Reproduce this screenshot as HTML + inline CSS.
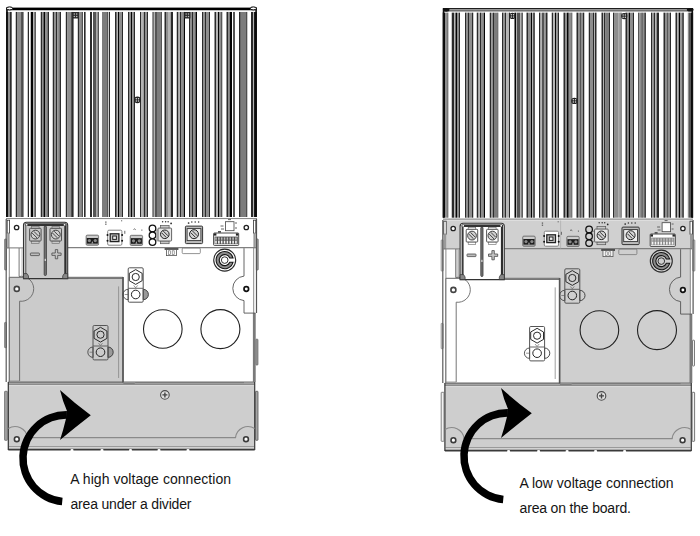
<!DOCTYPE html>
<html><head><meta charset="utf-8"><style>
html,body{margin:0;padding:0;background:#fff;}
body{width:700px;height:536px;overflow:hidden;position:relative;font-family:"Liberation Sans",sans-serif;}
svg{position:absolute;left:0;top:0;filter:blur(0.3px);}
.t{position:absolute;font-size:14px;color:#141414;white-space:nowrap;line-height:14px;}
</style></head><body>
<svg width="700" height="536" viewBox="0 0 700 536">
<rect x="6.1" y="11.8" width="1.8" height="205.2" fill="#050505"/>
<rect x="7.9" y="11.8" width="2.1" height="205.2" fill="#8e8e8e"/>
<rect x="10.0" y="11.8" width="1.7" height="205.2" fill="#2b2b2b"/>
<rect x="15.75" y="11.8" width="1.75" height="205.2" fill="#2b2b2b"/>
<rect x="17.5" y="11.8" width="3.5" height="205.2" fill="#8e8e8e"/>
<rect x="21.0" y="11.8" width="1.2" height="205.2" fill="#555"/>
<rect x="22.2" y="11.8" width="1.3" height="205.2" fill="#2b2b2b"/>
<rect x="27.75" y="11.8" width="1.25" height="205.2" fill="#2b2b2b"/>
<rect x="30.75" y="11.8" width="2.5" height="205.2" fill="#050505"/>
<rect x="33.25" y="11.8" width="1.25" height="205.2" fill="#b4b4b4"/>
<rect x="34.5" y="11.8" width="1.25" height="205.2" fill="#2b2b2b"/>
<rect x="40.75" y="11.8" width="1.75" height="205.2" fill="#2b2b2b"/>
<rect x="42.5" y="11.8" width="1.0" height="205.2" fill="#8e8e8e"/>
<rect x="43.5" y="11.8" width="1.5" height="205.2" fill="#050505"/>
<rect x="45.0" y="11.8" width="2.5" height="205.2" fill="#8e8e8e"/>
<rect x="47.5" y="11.8" width="1.5" height="205.2" fill="#2b2b2b"/>
<rect x="52.75" y="11.8" width="1.75" height="205.2" fill="#2b2b2b"/>
<rect x="54.5" y="11.8" width="1.5" height="205.2" fill="#8e8e8e"/>
<rect x="56.0" y="11.8" width="1.25" height="205.2" fill="#2b2b2b"/>
<rect x="57.25" y="11.8" width="2.25" height="205.2" fill="#8e8e8e"/>
<rect x="59.5" y="11.8" width="1.5" height="205.2" fill="#2b2b2b"/>
<rect x="65.8" y="11.8" width="1.3" height="205.2" fill="#2b2b2b"/>
<rect x="67.1" y="11.8" width="4.1" height="205.2" fill="#8e8e8e"/>
<rect x="71.2" y="11.8" width="2.4" height="205.2" fill="#2b2b2b"/>
<rect x="77.8" y="11.8" width="1.2" height="205.2" fill="#2b2b2b"/>
<rect x="79.0" y="11.8" width="2.6" height="205.2" fill="#8e8e8e"/>
<rect x="81.6" y="11.8" width="1.2" height="205.2" fill="#2b2b2b"/>
<rect x="84.0" y="11.8" width="1.6" height="205.2" fill="#2b2b2b"/>
<rect x="90.0" y="11.8" width="2.0" height="205.2" fill="#2b2b2b"/>
<rect x="93.0" y="11.8" width="3.5" height="205.2" fill="#555"/>
<rect x="97.5" y="11.8" width="1.3" height="205.2" fill="#2b2b2b"/>
<rect x="102.0" y="11.8" width="5.25" height="205.2" fill="#7c7c7c"/>
<rect x="107.25" y="11.8" width="1.0" height="205.2" fill="#2b2b2b"/>
<rect x="109.0" y="11.8" width="1.0" height="205.2" fill="#2b2b2b"/>
<rect x="115.0" y="11.8" width="1.75" height="205.2" fill="#2b2b2b"/>
<rect x="116.75" y="11.8" width="1.25" height="205.2" fill="#b4b4b4"/>
<rect x="118.0" y="11.8" width="1.0" height="205.2" fill="#050505"/>
<rect x="119.0" y="11.8" width="3.0" height="205.2" fill="#8e8e8e"/>
<rect x="122.0" y="11.8" width="1.0" height="205.2" fill="#2b2b2b"/>
<rect x="128.0" y="11.8" width="1.5" height="205.2" fill="#2b2b2b"/>
<rect x="129.5" y="11.8" width="1.5" height="205.2" fill="#8e8e8e"/>
<rect x="131.0" y="11.8" width="1.25" height="205.2" fill="#050505"/>
<rect x="132.25" y="11.8" width="1.5" height="205.2" fill="#8e8e8e"/>
<rect x="133.75" y="11.8" width="1.25" height="205.2" fill="#2b2b2b"/>
<rect x="140.0" y="11.8" width="1.0" height="205.2" fill="#2b2b2b"/>
<rect x="141.0" y="11.8" width="2.75" height="205.2" fill="#b4b4b4"/>
<rect x="143.75" y="11.8" width="1.25" height="205.2" fill="#2b2b2b"/>
<rect x="145.0" y="11.8" width="2.0" height="205.2" fill="#8e8e8e"/>
<rect x="147.0" y="11.8" width="1.0" height="205.2" fill="#2b2b2b"/>
<rect x="152.5" y="11.8" width="1.25" height="205.2" fill="#2b2b2b"/>
<rect x="153.75" y="11.8" width="1.25" height="205.2" fill="#b4b4b4"/>
<rect x="155.0" y="11.8" width="2.0" height="205.2" fill="#555"/>
<rect x="157.0" y="11.8" width="4.0" height="205.2" fill="#7c7c7c"/>
<rect x="161.0" y="11.8" width="0.8" height="205.2" fill="#2b2b2b"/>
<rect x="164.5" y="11.8" width="1.5" height="205.2" fill="#2b2b2b"/>
<rect x="166.0" y="11.8" width="2.0" height="205.2" fill="#8e8e8e"/>
<rect x="168.0" y="11.8" width="2.75" height="205.2" fill="#b4b4b4"/>
<rect x="170.75" y="11.8" width="2.25" height="205.2" fill="#2b2b2b"/>
<rect x="176.75" y="11.8" width="1.75" height="205.2" fill="#2b2b2b"/>
<rect x="178.5" y="11.8" width="1.5" height="205.2" fill="#b4b4b4"/>
<rect x="180.0" y="11.8" width="1.5" height="205.2" fill="#2b2b2b"/>
<rect x="181.5" y="11.8" width="2.25" height="205.2" fill="#8e8e8e"/>
<rect x="183.75" y="11.8" width="1.25" height="205.2" fill="#050505"/>
<rect x="189.0" y="11.8" width="1.5" height="205.2" fill="#2b2b2b"/>
<rect x="190.5" y="11.8" width="1.5" height="205.2" fill="#8e8e8e"/>
<rect x="192.0" y="11.8" width="1.5" height="205.2" fill="#2b2b2b"/>
<rect x="193.5" y="11.8" width="2.0" height="205.2" fill="#8e8e8e"/>
<rect x="195.5" y="11.8" width="1.5" height="205.2" fill="#050505"/>
<rect x="202.0" y="11.8" width="1.5" height="205.2" fill="#2b2b2b"/>
<rect x="203.5" y="11.8" width="1.5" height="205.2" fill="#8e8e8e"/>
<rect x="205.0" y="11.8" width="1.5" height="205.2" fill="#2b2b2b"/>
<rect x="206.5" y="11.8" width="2.5" height="205.2" fill="#8e8e8e"/>
<rect x="209.0" y="11.8" width="1.0" height="205.2" fill="#2b2b2b"/>
<rect x="214.5" y="11.8" width="1.5" height="205.2" fill="#2b2b2b"/>
<rect x="216.0" y="11.8" width="2.0" height="205.2" fill="#b4b4b4"/>
<rect x="218.0" y="11.8" width="1.0" height="205.2" fill="#050505"/>
<rect x="219.0" y="11.8" width="2.25" height="205.2" fill="#8e8e8e"/>
<rect x="221.25" y="11.8" width="1.0" height="205.2" fill="#2b2b2b"/>
<rect x="226.5" y="11.8" width="1.5" height="205.2" fill="#2b2b2b"/>
<rect x="228.0" y="11.8" width="1.75" height="205.2" fill="#8e8e8e"/>
<rect x="229.75" y="11.8" width="2.25" height="205.2" fill="#050505"/>
<rect x="233.0" y="11.8" width="2.0" height="205.2" fill="#555"/>
<rect x="239.0" y="11.8" width="1.75" height="205.2" fill="#2b2b2b"/>
<rect x="240.75" y="11.8" width="5.45" height="205.2" fill="#7c7c7c"/>
<rect x="246.2" y="11.8" width="1.05" height="205.2" fill="#2b2b2b"/>
<rect x="251.0" y="11.8" width="2.0" height="205.2" fill="#2b2b2b"/>
<rect x="253.0" y="11.8" width="1.1" height="205.2" fill="#b4b4b4"/>
<rect x="254.1" y="11.8" width="2.8" height="205.2" fill="#050505"/>
<rect x="6" y="7.6" width="251" height="2.9" fill="#000"/>
<rect x="6" y="10.5" width="251" height="1.3" fill="#fff"/>
<rect x="6.1" y="7.6" width="1.7" height="209.4" fill="#111"/>
<rect x="255.3" y="7.6" width="1.6" height="209.4" fill="#111"/>
<ellipse cx="9.6" cy="8.4" rx="3" ry="1.5" fill="#fff" stroke="#000" stroke-width="1"/>
<ellipse cx="253.3" cy="8.4" rx="3" ry="1.5" fill="#fff" stroke="#000" stroke-width="1"/>
<line x1="6" y1="218.6" x2="257" y2="218.6" stroke="#8a8a8a" stroke-width="1.2"/>
<rect x="72.4" y="12" width="6.2" height="6.6" rx="0.6" fill="#2a2a2a"/><circle cx="74.3" cy="14" r="0.75" fill="#bbb"/><circle cx="76.7" cy="14" r="0.75" fill="#bbb"/><circle cx="74.3" cy="16.4" r="0.75" fill="#bbb"/><circle cx="76.7" cy="16.4" r="0.75" fill="#bbb"/>
<rect x="184.2" y="12" width="6.2" height="6.6" rx="0.6" fill="#2a2a2a"/><circle cx="186.1" cy="14" r="0.75" fill="#bbb"/><circle cx="188.5" cy="14" r="0.75" fill="#bbb"/><circle cx="186.1" cy="16.4" r="0.75" fill="#bbb"/><circle cx="188.5" cy="16.4" r="0.75" fill="#bbb"/>
<circle cx="137.4" cy="99.8" r="3.4" fill="#222"/><circle cx="136.3" cy="98.7" r="0.75" fill="#ddd"/><circle cx="138.5" cy="98.7" r="0.75" fill="#ddd"/><circle cx="136.3" cy="100.9" r="0.75" fill="#ddd"/><circle cx="138.5" cy="100.9" r="0.75" fill="#ddd"/>
<rect x="442.75" y="12.4" width="2.25" height="205.3" fill="#050505"/>
<rect x="445.0" y="12.4" width="2.5" height="205.3" fill="#8e8e8e"/>
<rect x="447.5" y="12.4" width="0.75" height="205.3" fill="#2b2b2b"/>
<rect x="451.75" y="12.4" width="2.5" height="205.3" fill="#2b2b2b"/>
<rect x="454.25" y="12.4" width="1.25" height="205.3" fill="#b4b4b4"/>
<rect x="455.5" y="12.4" width="1.5" height="205.3" fill="#050505"/>
<rect x="457.0" y="12.4" width="1.75" height="205.3" fill="#8e8e8e"/>
<rect x="458.75" y="12.4" width="1.25" height="205.3" fill="#2b2b2b"/>
<rect x="465.0" y="12.4" width="1.5" height="205.3" fill="#2b2b2b"/>
<rect x="466.5" y="12.4" width="1.5" height="205.3" fill="#8e8e8e"/>
<rect x="468.0" y="12.4" width="1.0" height="205.3" fill="#2b2b2b"/>
<rect x="469.0" y="12.4" width="3.0" height="205.3" fill="#8e8e8e"/>
<rect x="472.0" y="12.4" width="1.25" height="205.3" fill="#2b2b2b"/>
<rect x="476.75" y="12.4" width="1.75" height="205.3" fill="#2b2b2b"/>
<rect x="478.5" y="12.4" width="1.5" height="205.3" fill="#b4b4b4"/>
<rect x="480.0" y="12.4" width="1.5" height="205.3" fill="#2b2b2b"/>
<rect x="481.5" y="12.4" width="2.25" height="205.3" fill="#8e8e8e"/>
<rect x="483.75" y="12.4" width="1.25" height="205.3" fill="#050505"/>
<rect x="489.75" y="12.4" width="1.5" height="205.3" fill="#2b2b2b"/>
<rect x="491.25" y="12.4" width="1.75" height="205.3" fill="#8e8e8e"/>
<rect x="493.0" y="12.4" width="1.0" height="205.3" fill="#2b2b2b"/>
<rect x="494.0" y="12.4" width="3.5" height="205.3" fill="#7c7c7c"/>
<rect x="497.5" y="12.4" width="0.75" height="205.3" fill="#2b2b2b"/>
<rect x="502.0" y="12.4" width="1.5" height="205.3" fill="#2b2b2b"/>
<rect x="503.5" y="12.4" width="1.5" height="205.3" fill="#8e8e8e"/>
<rect x="505.0" y="12.4" width="1.25" height="205.3" fill="#2b2b2b"/>
<rect x="506.25" y="12.4" width="2.75" height="205.3" fill="#b4b4b4"/>
<rect x="509.0" y="12.4" width="1.0" height="205.3" fill="#2b2b2b"/>
<rect x="514.5" y="12.4" width="1.5" height="205.3" fill="#050505"/>
<rect x="516.0" y="12.4" width="1.0" height="205.3" fill="#b4b4b4"/>
<rect x="517.0" y="12.4" width="3.0" height="205.3" fill="#555"/>
<rect x="520.0" y="12.4" width="1.5" height="205.3" fill="#b4b4b4"/>
<rect x="521.5" y="12.4" width="1.25" height="205.3" fill="#2b2b2b"/>
<rect x="526.5" y="12.4" width="1.5" height="205.3" fill="#2b2b2b"/>
<rect x="528.0" y="12.4" width="3.0" height="205.3" fill="#8e8e8e"/>
<rect x="531.0" y="12.4" width="1.0" height="205.3" fill="#050505"/>
<rect x="532.0" y="12.4" width="1.0" height="205.3" fill="#b4b4b4"/>
<rect x="533.0" y="12.4" width="2.0" height="205.3" fill="#555"/>
<rect x="539.0" y="12.4" width="1.5" height="205.3" fill="#2b2b2b"/>
<rect x="540.5" y="12.4" width="1.5" height="205.3" fill="#b4b4b4"/>
<rect x="542.0" y="12.4" width="2.5" height="205.3" fill="#555"/>
<rect x="544.5" y="12.4" width="1.5" height="205.3" fill="#8e8e8e"/>
<rect x="546.0" y="12.4" width="1.5" height="205.3" fill="#2b2b2b"/>
<rect x="551.75" y="12.4" width="1.5" height="205.3" fill="#2b2b2b"/>
<rect x="553.25" y="12.4" width="1.75" height="205.3" fill="#b4b4b4"/>
<rect x="555.0" y="12.4" width="1.25" height="205.3" fill="#050505"/>
<rect x="556.25" y="12.4" width="1.75" height="205.3" fill="#8e8e8e"/>
<rect x="558.0" y="12.4" width="1.0" height="205.3" fill="#2b2b2b"/>
<rect x="563.5" y="12.4" width="1.5" height="205.3" fill="#2b2b2b"/>
<rect x="565.0" y="12.4" width="2.0" height="205.3" fill="#8e8e8e"/>
<rect x="567.0" y="12.4" width="1.75" height="205.3" fill="#050505"/>
<rect x="568.75" y="12.4" width="2.75" height="205.3" fill="#8e8e8e"/>
<rect x="571.5" y="12.4" width="0.75" height="205.3" fill="#2b2b2b"/>
<rect x="576.5" y="12.4" width="1.5" height="205.3" fill="#2b2b2b"/>
<rect x="578.0" y="12.4" width="2.0" height="205.3" fill="#8e8e8e"/>
<rect x="580.0" y="12.4" width="0.75" height="205.3" fill="#050505"/>
<rect x="580.75" y="12.4" width="2.25" height="205.3" fill="#8e8e8e"/>
<rect x="583.0" y="12.4" width="1.25" height="205.3" fill="#2b2b2b"/>
<rect x="588.75" y="12.4" width="1.25" height="205.3" fill="#2b2b2b"/>
<rect x="590.0" y="12.4" width="3.0" height="205.3" fill="#8e8e8e"/>
<rect x="593.0" y="12.4" width="1.0" height="205.3" fill="#2b2b2b"/>
<rect x="594.0" y="12.4" width="1.0" height="205.3" fill="#b4b4b4"/>
<rect x="595.0" y="12.4" width="1.5" height="205.3" fill="#2b2b2b"/>
<rect x="601.5" y="12.4" width="1.5" height="205.3" fill="#2b2b2b"/>
<rect x="603.0" y="12.4" width="1.0" height="205.3" fill="#b4b4b4"/>
<rect x="604.0" y="12.4" width="1.5" height="205.3" fill="#2b2b2b"/>
<rect x="605.5" y="12.4" width="3.5" height="205.3" fill="#7c7c7c"/>
<rect x="609.0" y="12.4" width="1.0" height="205.3" fill="#2b2b2b"/>
<rect x="613.0" y="12.4" width="1.5" height="205.3" fill="#2b2b2b"/>
<rect x="614.5" y="12.4" width="4.25" height="205.3" fill="#8e8e8e"/>
<rect x="618.75" y="12.4" width="1.0" height="205.3" fill="#b4b4b4"/>
<rect x="619.75" y="12.4" width="0.75" height="205.3" fill="#2b2b2b"/>
<rect x="620.5" y="12.4" width="1.5" height="205.3" fill="#8e8e8e"/>
<rect x="625.5" y="12.4" width="1.5" height="205.3" fill="#2b2b2b"/>
<rect x="627.0" y="12.4" width="1.75" height="205.3" fill="#8e8e8e"/>
<rect x="628.75" y="12.4" width="1.25" height="205.3" fill="#050505"/>
<rect x="630.0" y="12.4" width="2.75" height="205.3" fill="#8e8e8e"/>
<rect x="632.75" y="12.4" width="1.25" height="205.3" fill="#2b2b2b"/>
<rect x="638.0" y="12.4" width="1.5" height="205.3" fill="#555"/>
<rect x="639.5" y="12.4" width="2.0" height="205.3" fill="#8e8e8e"/>
<rect x="641.5" y="12.4" width="1.25" height="205.3" fill="#2b2b2b"/>
<rect x="642.75" y="12.4" width="1.75" height="205.3" fill="#8e8e8e"/>
<rect x="644.5" y="12.4" width="1.25" height="205.3" fill="#050505"/>
<rect x="651.0" y="12.4" width="1.25" height="205.3" fill="#2b2b2b"/>
<rect x="652.25" y="12.4" width="1.75" height="205.3" fill="#8e8e8e"/>
<rect x="654.0" y="12.4" width="1.25" height="205.3" fill="#2b2b2b"/>
<rect x="655.25" y="12.4" width="0.75" height="205.3" fill="#b4b4b4"/>
<rect x="656.0" y="12.4" width="1.0" height="205.3" fill="#8e8e8e"/>
<rect x="657.0" y="12.4" width="2.0" height="205.3" fill="#2b2b2b"/>
<rect x="663.5" y="12.4" width="1.5" height="205.3" fill="#2b2b2b"/>
<rect x="665.0" y="12.4" width="2.25" height="205.3" fill="#8e8e8e"/>
<rect x="667.25" y="12.4" width="0.75" height="205.3" fill="#2b2b2b"/>
<rect x="668.0" y="12.4" width="2.0" height="205.3" fill="#8e8e8e"/>
<rect x="670.0" y="12.4" width="1.0" height="205.3" fill="#2b2b2b"/>
<rect x="675.5" y="12.4" width="1.5" height="205.3" fill="#2b2b2b"/>
<rect x="677.0" y="12.4" width="1.7" height="205.3" fill="#b4b4b4"/>
<rect x="678.7" y="12.4" width="1.8" height="205.3" fill="#050505"/>
<rect x="680.5" y="12.4" width="0.6" height="205.3" fill="#b4b4b4"/>
<rect x="681.1" y="12.4" width="0.9" height="205.3" fill="#8e8e8e"/>
<rect x="682.0" y="12.4" width="2.0" height="205.3" fill="#555"/>
<rect x="687.8" y="12.4" width="1.2" height="205.3" fill="#8e8e8e"/>
<rect x="689.0" y="12.4" width="2.0" height="205.3" fill="#555"/>
<rect x="691.0" y="12.4" width="2.1" height="205.3" fill="#050505"/>
<rect x="443" y="8" width="250" height="1.3" fill="#1e1e1e"/>
<rect x="443" y="9.3" width="250" height="1.2" fill="#8a8a8a"/>
<rect x="443" y="10.5" width="250" height="1.1" fill="#222"/>
<rect x="443" y="11.6" width="250" height="0.8" fill="#fff"/>
<ellipse cx="446.2" cy="9.8" rx="3.3" ry="1.9" fill="#111"/>
<ellipse cx="690.2" cy="9.7" rx="3.4" ry="1.8" fill="#111"/>
<rect x="442.75" y="8.1" width="1.6" height="209.6" fill="#111"/>
<rect x="691.5" y="8.1" width="1.6" height="209.6" fill="#111"/>
<line x1="443" y1="219.2" x2="693" y2="219.2" stroke="#8a8a8a" stroke-width="1.2"/>
<circle cx="512.4" cy="15.9" r="3.1" fill="#222"/><circle cx="511.3" cy="14.8" r="0.75" fill="#ddd"/><circle cx="513.5" cy="14.8" r="0.75" fill="#ddd"/><circle cx="511.3" cy="17" r="0.75" fill="#ddd"/><circle cx="513.5" cy="17" r="0.75" fill="#ddd"/>
<circle cx="624.2" cy="16.1" r="3.1" fill="#222"/><circle cx="623.1" cy="15" r="0.75" fill="#ddd"/><circle cx="625.3" cy="15" r="0.75" fill="#ddd"/><circle cx="623.1" cy="17.2" r="0.75" fill="#ddd"/><circle cx="625.3" cy="17.2" r="0.75" fill="#ddd"/>
<circle cx="574.4" cy="100.9" r="3.2" fill="#222"/><circle cx="573.3" cy="99.8" r="0.75" fill="#ddd"/><circle cx="575.5" cy="99.8" r="0.75" fill="#ddd"/><circle cx="573.3" cy="102" r="0.75" fill="#ddd"/><circle cx="575.5" cy="102" r="0.75" fill="#ddd"/>
<rect x="6.2" y="219.3" width="250.3" height="28.5" fill="#fff"/>
<rect x="19.5" y="247.8" width="234.2" height="134.5" fill="#fff"/>
<rect x="8.3" y="382" width="246.4" height="67.6" fill="#cecece"/>
<rect x="8.3" y="382.3" width="246.4" height="2.2" fill="#acacac"/>
<line x1="8.3" y1="382" x2="254.7" y2="382" stroke="#707070" stroke-width="1.1"/>
<line x1="8.3" y1="384.3" x2="254.7" y2="384.3" stroke="#808080" stroke-width="1"/>
<line x1="8.3" y1="385.6" x2="254.7" y2="385.6" stroke="#dcdcdc" stroke-width="0.9"/>
<line x1="27" y1="437.6" x2="236" y2="437.6" stroke="#8a8a8a" stroke-width="1.3"/>
<line x1="9" y1="446.6" x2="254" y2="446.6" stroke="#9a9a9a" stroke-width="1.1"/>
<line x1="8.3" y1="447.8" x2="254.7" y2="447.8" stroke="#e0e0e0" stroke-width="0.8"/>
<line x1="8.3" y1="449.6" x2="254.7" y2="449.6" stroke="#3a3a3a" stroke-width="1.6"/>
<ellipse cx="72" cy="450.2" rx="1.6" ry="1.1" fill="#fff"/>
<ellipse cx="102" cy="450.2" rx="1.6" ry="1.1" fill="#fff"/>
<ellipse cx="130.5" cy="450.2" rx="1.6" ry="1.1" fill="#fff"/>
<ellipse cx="159" cy="450.2" rx="1.6" ry="1.1" fill="#fff"/>
<ellipse cx="188" cy="450.2" rx="1.6" ry="1.1" fill="#fff"/>
<line x1="8.3" y1="382" x2="8.3" y2="450" stroke="#333" stroke-width="1.2"/>
<line x1="254.7" y1="382" x2="254.7" y2="450" stroke="#3a3a3a" stroke-width="1.2"/>
<path d="M8.3 428.6 A12.5 12.5 0 0 1 27.5 437.6" fill="none" stroke="#8a8a8a" stroke-width="1.2"/>
<path d="M254.7 428.6 A12.5 12.5 0 0 0 235.5 437.6" fill="none" stroke="#8a8a8a" stroke-width="1.2"/>
<circle cx="16.8" cy="439.2" r="2.4" fill="#fff" stroke="#3a3a3a" stroke-width="1.6"/>
<circle cx="246" cy="439.2" r="2.4" fill="#fff" stroke="#3a3a3a" stroke-width="1.6"/>
<circle cx="164.9" cy="394.9" r="4.3" fill="#dedede" stroke="#4a4a4a" stroke-width="1.1"/>
<path d="M162.4 394.9 H167.4 M164.9 392.4 V397.4" stroke="#444" stroke-width="1.4"/>
<rect x="4.6" y="391.3" width="2.8" height="49" rx="0.5" fill="#a4a4a4" stroke="#666" stroke-width="0.8"/>
<rect x="255.5" y="391.3" width="2.5" height="49" rx="0.5" fill="#a4a4a4" stroke="#555" stroke-width="0.8"/>
<rect x="4.6" y="239" width="1.9" height="31" rx="0.5" fill="#a4a4a4" stroke="#666" stroke-width="0.7"/>
<rect x="256.3" y="239" width="1.9" height="31" rx="0.5" fill="#a4a4a4" stroke="#555" stroke-width="0.7"/>
<rect x="4.6" y="322.4" width="1.9" height="25.3" rx="0.5" fill="#a4a4a4" stroke="#666" stroke-width="0.7"/>
<rect x="255.9" y="339.2" width="2" height="25.8" rx="0.6" fill="#a4a4a4" stroke="#5a5a5a" stroke-width="0.8"/>
<line x1="6.2" y1="219" x2="6.2" y2="382" stroke="#5a5a5a" stroke-width="1.2"/>
<line x1="9.3" y1="248" x2="9.3" y2="382" stroke="#8a8a8a" stroke-width="1"/>
<line x1="253.7" y1="248" x2="253.7" y2="313" stroke="#8a8a8a" stroke-width="1"/>
<line x1="256.5" y1="219" x2="256.5" y2="313" stroke="#555" stroke-width="1.2"/>
<rect x="252.9" y="313" width="2.8" height="69" fill="#7a7a7a"/>
<rect x="7.2" y="220.2" width="2.4" height="13" fill="#fff" stroke="#333" stroke-width="0.8"/>
<rect x="7.2" y="233.2" width="2.4" height="15" fill="#9a9a9a"/>
<rect x="253.4" y="220.2" width="2.4" height="13" fill="#fff" stroke="#333" stroke-width="0.8"/>
<rect x="253.4" y="233.2" width="2.4" height="15" fill="#9a9a9a"/>
<line x1="6.2" y1="247.9" x2="23.5" y2="247.9" stroke="#777" stroke-width="1"/>
<line x1="67.5" y1="247.6" x2="256" y2="247.6" stroke="#808080" stroke-width="1.1"/>
<circle cx="16.6" cy="227.5" r="2.2" fill="#fff" stroke="#222" stroke-width="1.3"/>
<circle cx="246.3" cy="227.5" r="2.2" fill="#fff" stroke="#222" stroke-width="1.3"/>
<path d="M244 248.2 V276.1 A12.3 12.3 0 0 0 244 300.6 V313.1 H255.4" fill="none" stroke="#555" stroke-width="0.9"/>
<circle cx="246.3" cy="289" r="2.3" fill="#fff" stroke="#111" stroke-width="1.7"/>
<line x1="19.1" y1="248" x2="19.1" y2="276.5" stroke="#777" stroke-width="1"/>
<line x1="22" y1="248" x2="22" y2="276.5" stroke="#aaa" stroke-width="0.8"/>
<path d="M9.3 277.3 H123 V382 H9.3 Z" fill="#cbcbcb" stroke="#666" stroke-width="1"/>
<line x1="24" y1="278.4" x2="123" y2="278.4" stroke="#777" stroke-width="1.2"/>
<line x1="123" y1="277" x2="123" y2="382.5" stroke="#555" stroke-width="1.6"/>
<path d="M19 276.5 A12.5 12.5 0 1 1 19.6 301.2 V381" fill="none" stroke="#666" stroke-width="0.9"/>
<line x1="9.3" y1="381" x2="19.6" y2="381" stroke="#888" stroke-width="0.8"/>
<line x1="118.6" y1="286.4" x2="118.6" y2="378" stroke="#888" stroke-width="0.8"/>
<circle cx="16.8" cy="288.9" r="2.5" fill="#fff" stroke="#444" stroke-width="1.6"/>
<path d="M123.4 383.4 H134.5 L135.5 382.6 H244" fill="none" stroke="#777" stroke-width="0.9"/>
<circle cx="162.8" cy="329" r="19.3" fill="none" stroke="#222" stroke-width="1.1"/>
<circle cx="220.4" cy="329.1" r="19.5" fill="none" stroke="#222" stroke-width="1.1"/>
<path d="M128.2 289.3 A5.2 5.2 0 0 0 128.2 299.7 Z" fill="none" stroke="#444" stroke-width="0.9"/><path d="M143.2 289.3 A5.2 5.2 0 0 1 143.2 299.7 Z" fill="#9a9a9a" stroke="#333" stroke-width="0.9"/><line x1="124.7" y1="294.5" x2="128.2" y2="294.5" stroke="#666" stroke-width="0.7"/><rect x="128.2" y="267.8" width="15" height="34.4" rx="1.2" fill="none" stroke="#555" stroke-width="1"/><line x1="128.2" y1="288.3" x2="143.2" y2="288.3" stroke="#555" stroke-width="0.9"/><polygon points="135.7,269.6 142.11,273.3 142.11,280.7 135.7,284.4 129.29,280.7 129.29,273.3" fill="none" stroke="#2a2a2a" stroke-width="1"/><circle cx="135.7" cy="277" r="3.6" fill="none" stroke="#2a2a2a" stroke-width="1"/><circle cx="135.7" cy="294.5" r="4.3" fill="none" stroke="#222" stroke-width="1"/><path d="M133.7 285.4 L135.7 287.8 L137.7 285.4" fill="none" stroke="#666" stroke-width="0.7"/>
<path d="M93 347 A5.2 5.2 0 0 0 93 357.4 Z" fill="none" stroke="#444" stroke-width="0.9"/><path d="M108 347 A5.2 5.2 0 0 1 108 357.4 Z" fill="#9a9a9a" stroke="#333" stroke-width="0.9"/><line x1="89.5" y1="352.2" x2="93" y2="352.2" stroke="#666" stroke-width="0.7"/><rect x="93" y="325.5" width="15" height="34.4" rx="1.2" fill="none" stroke="#555" stroke-width="1"/><line x1="93" y1="346" x2="108" y2="346" stroke="#555" stroke-width="0.9"/><polygon points="100.5,327.3 106.91,331 106.91,338.4 100.5,342.1 94.09,338.4 94.09,331" fill="none" stroke="#2a2a2a" stroke-width="1"/><circle cx="100.5" cy="334.7" r="3.6" fill="none" stroke="#2a2a2a" stroke-width="1"/><circle cx="100.5" cy="352.2" r="4.3" fill="none" stroke="#222" stroke-width="1"/><path d="M98.5 343.1 L100.5 345.5 L102.5 343.1" fill="none" stroke="#666" stroke-width="0.7"/>
<circle cx="224.7" cy="260.1" r="11" fill="none" stroke="#2a2a2a" stroke-width="1.1"/><path d="M233.04 262.2 A8.6 8.6 0 1 1 233.04 258 L229.78 258 A5.5 5.5 0 1 0 229.78 262.2 Z" fill="#8c8c8c" stroke="#151515" stroke-width="1.1"/><circle cx="224.7" cy="260.1" r="3.3" fill="none" stroke="#333" stroke-width="1"/>
<rect x="164.6" y="248.2" width="13.8" height="1.6" fill="#333"/>
<rect x="166.4" y="249.6" width="10" height="6" fill="#fff" stroke="#555" stroke-width="0.8"/>
<rect x="168.6" y="250.8" width="2" height="3.6" fill="none" stroke="#666" stroke-width="0.6"/>
<rect x="172.2" y="250.8" width="2" height="3.6" fill="none" stroke="#666" stroke-width="0.6"/>
<rect x="182.2" y="248" width="18.1" height="5.6" rx="1" fill="none" stroke="#777" stroke-width="0.8"/>
<path d="M23.5 278.6 V225.2 Q23.5 222.2 26.5 222.2 H64.7 Q67.7 222.2 67.7 225.2 V278.6 Z" fill="#c9c9c9" stroke="#333" stroke-width="1.1"/><rect x="25.2" y="223.4" width="40.8" height="2.6" fill="#333"/><line x1="25.8" y1="224" x2="25.8" y2="274.5" stroke="#4a4a4a" stroke-width="0.9"/><rect x="64.3" y="224" width="2.2" height="50.5" fill="#2e2e2e"/><rect x="25.8" y="224" width="1.6" height="1.6" fill="#eee"/><rect x="63.8" y="224" width="1.6" height="1.6" fill="#eee"/><rect x="44.2" y="226" width="2.2" height="49.5" rx="1" fill="#777" stroke="#333" stroke-width="0.8"/><rect x="44.7" y="258.8" width="1.2" height="2.2" fill="#ddd"/><rect x="31.6" y="226.3" width="7.5" height="2.4" fill="#c9c9c9" stroke="#666" stroke-width="0.6"/><rect x="31.6" y="240.9" width="7.5" height="2.4" fill="#c9c9c9" stroke="#666" stroke-width="0.6"/><rect x="29.6" y="228.3" width="11.5" height="12.7" rx="0.8" fill="#c9c9c9" stroke="#444" stroke-width="0.9"/><circle cx="35.4" cy="234.6" r="4.4" fill="#d0d0d0" stroke="#333" stroke-width="0.9"/><path d="M32.1 233 L37 237.9 M33.8 231.3 L38.7 236.2" stroke="#333" stroke-width="0.9"/><rect x="52" y="226.3" width="7.5" height="2.4" fill="#c9c9c9" stroke="#666" stroke-width="0.6"/><rect x="52" y="240.9" width="7.5" height="2.4" fill="#c9c9c9" stroke="#666" stroke-width="0.6"/><rect x="50" y="228.3" width="11.5" height="12.7" rx="0.8" fill="#c9c9c9" stroke="#444" stroke-width="0.9"/><circle cx="55.8" cy="234.6" r="4.4" fill="#d0d0d0" stroke="#333" stroke-width="0.9"/><path d="M52.5 233 L57.4 237.9 M54.2 231.3 L59.1 236.2" stroke="#333" stroke-width="0.9"/><rect x="30.4" y="253" width="9" height="2.6" rx="0.6" fill="#bdbdbd" stroke="#4a4a4a" stroke-width="0.8"/><path d="M55.3 249.6 H57.7 V253 H61.1 V255.4 H57.7 V258.8 H55.3 V255.4 H51.9 V253 H55.3 Z" fill="#c4c4c4" stroke="#4a4a4a" stroke-width="0.8"/><path d="M23.5 273.6 H27 L28.5 276 V278.6 H23.5 Z" fill="#888" stroke="#333" stroke-width="0.7"/><path d="M67.7 273.6 H64.2 L62.7 276 V278.6 H67.7 Z" fill="#888" stroke="#333" stroke-width="0.7"/>
<rect x="86.1" y="235.1" width="12.5" height="10.2" rx="1.2" fill="#a8a8a8" stroke="#666" stroke-width="0.8"/><rect x="86.9" y="235.9" width="10.9" height="2" fill="#cfcfcf"/><rect x="86.8" y="238" width="11.1" height="5.6" fill="#1c1c1c"/><circle cx="89.4" cy="240.6" r="1.6" fill="#8a8a8a"/><circle cx="95.3" cy="240.6" r="1.6" fill="#8a8a8a"/><path d="M91.35 243.5 L92.35 240.9 L93.35 243.5 Z" fill="#aaa"/><rect x="130.2" y="235.3" width="12.4" height="10.2" rx="1.2" fill="#a8a8a8" stroke="#666" stroke-width="0.8"/><rect x="131" y="236.1" width="10.8" height="2" fill="#cfcfcf"/><rect x="130.9" y="238.2" width="11" height="5.6" fill="#1c1c1c"/><circle cx="133.5" cy="240.8" r="1.6" fill="#8a8a8a"/><circle cx="139.3" cy="240.8" r="1.6" fill="#8a8a8a"/><path d="M135.4 243.7 L136.4 241.1 L137.4 243.7 Z" fill="#aaa"/><rect x="107.7" y="230.2" width="14.2" height="15" rx="1.2" fill="#fff" stroke="#777" stroke-width="0.9"/><rect x="110.2" y="233.8" width="8.7" height="7.8" fill="#c4c4c4" stroke="#222" stroke-width="1.3"/><rect x="112.7" y="236" width="3.7" height="3.4" fill="#eee" stroke="#222" stroke-width="1"/><circle cx="107.5" cy="234.9" r="1" fill="#111"/><circle cx="107.5" cy="240.7" r="1" fill="#111"/><circle cx="122.1" cy="234.9" r="1" fill="#111"/><circle cx="122.1" cy="240.7" r="1" fill="#111"/><rect x="124.3" y="230.8" width="1" height="3" fill="#666"/><rect x="105.2" y="221.5" width="1.3" height="1.2" fill="#555"/><rect x="105.2" y="223.6" width="1.3" height="1.2" fill="#555"/><rect x="121" y="220.3" width="1.2" height="1" fill="#666"/><path d="M133.5 229.5 l1 -0.6 l1.2 0.8" stroke="#444" stroke-width="0.8" fill="none"/><rect x="141.3" y="229.6" width="1.1" height="1" fill="#555"/><circle cx="152.5" cy="228.4" r="3.3" fill="#fff" stroke="#111" stroke-width="1.3"/><circle cx="152.5" cy="235.3" r="3.3" fill="#fff" stroke="#111" stroke-width="1.3"/><circle cx="152.5" cy="242.1" r="3.3" fill="#fff" stroke="#111" stroke-width="1.3"/><rect x="156.5" y="230" width="1.5" height="11" fill="#fff" stroke="#777" stroke-width="0.5"/><rect x="160.4" y="225.5" width="8.7" height="2.8" fill="#c8c8c8" stroke="#555" stroke-width="0.7"/><rect x="160.4" y="240.9" width="8.7" height="2.8" fill="#c8c8c8" stroke="#555" stroke-width="0.7"/><rect x="158" y="228.1" width="13.6" height="12.9" rx="0.8" fill="#e8e8e8" stroke="#555" stroke-width="0.9"/><circle cx="164.8" cy="234.3" r="4.3" fill="#d4d4d4" stroke="#222" stroke-width="1"/><path d="M161.6 232.8 L166.3 237.5 M163.3 231.1 L168 235.8" stroke="#222" stroke-width="0.9"/><rect x="185.4" y="226.1" width="17.2" height="17.5" rx="1" fill="#bdbdbd" stroke="#333" stroke-width="1"/><rect x="187.1" y="228.6" width="13.8" height="12" fill="#eee" stroke="#333" stroke-width="0.9"/><circle cx="194" cy="234.2" r="4.5" fill="#d4d4d4" stroke="#222" stroke-width="1"/><path d="M190.7 232.6 L195.6 237.5 M192.4 230.9 L197.3 235.8" stroke="#222" stroke-width="0.9"/><circle cx="162.6" cy="221.7" r="0.75" fill="#333"/><circle cx="165.6" cy="221.7" r="0.75" fill="#333"/><circle cx="168.1" cy="221.7" r="0.75" fill="#333"/><circle cx="171.1" cy="223.4" r="0.85" fill="#222"/><circle cx="188.6" cy="223" r="0.85" fill="#222"/><circle cx="191.8" cy="222" r="0.75" fill="#333"/><circle cx="195.2" cy="222" r="0.75" fill="#333"/><circle cx="198.6" cy="222" r="0.75" fill="#333"/><rect x="213.6" y="233" width="25.1" height="12.4" rx="0.8" fill="#fff" stroke="#333" stroke-width="0.9"/><rect x="214" y="233.4" width="2.4" height="2.2" fill="#222"/><rect x="235.9" y="233.4" width="2.4" height="2.2" fill="#222"/><rect x="214.6" y="236.6" width="23.2" height="7.5" fill="#4a4a4a"/><rect x="215.2" y="237.4" width="1.6" height="2.4" fill="#bbb"/><rect x="215.2" y="240.6" width="1.6" height="3" fill="#f4f4f4"/><rect x="218.05" y="237.4" width="1.6" height="2.4" fill="#bbb"/><rect x="218.05" y="240.6" width="1.6" height="3" fill="#f4f4f4"/><rect x="220.9" y="237.4" width="1.6" height="2.4" fill="#bbb"/><rect x="220.9" y="240.6" width="1.6" height="3" fill="#f4f4f4"/><rect x="223.75" y="237.4" width="1.6" height="2.4" fill="#bbb"/><rect x="223.75" y="240.6" width="1.6" height="3" fill="#f4f4f4"/><rect x="226.6" y="237.4" width="1.6" height="2.4" fill="#bbb"/><rect x="226.6" y="240.6" width="1.6" height="3" fill="#f4f4f4"/><rect x="229.45" y="237.4" width="1.6" height="2.4" fill="#bbb"/><rect x="229.45" y="240.6" width="1.6" height="3" fill="#f4f4f4"/><rect x="232.3" y="237.4" width="1.6" height="2.4" fill="#bbb"/><rect x="232.3" y="240.6" width="1.6" height="3" fill="#f4f4f4"/><rect x="235.15" y="237.4" width="1.6" height="2.4" fill="#bbb"/><rect x="235.15" y="240.6" width="1.6" height="3" fill="#f4f4f4"/><rect x="225.5" y="221.7" width="8.5" height="9" fill="#fff" stroke="#444" stroke-width="0.8"/><path d="M220.5 226 h3 M221 229 h3 M235 223 h2 M235 228 h2 M228 219.6 h3" stroke="#555" stroke-width="0.9"/><rect x="218" y="231" width="3" height="1.8" fill="#555"/>
<g transform="translate(436.6,1)"><rect x="6.2" y="219.3" width="250.3" height="28.5" fill="#d0d0d0"/>
<rect x="19.5" y="247.8" width="234.2" height="134.5" fill="#cfcfcf"/>
<rect x="8.3" y="382" width="246.4" height="67.6" fill="#cecece"/>
<rect x="8.3" y="382.3" width="246.4" height="2.2" fill="#acacac"/>
<line x1="8.3" y1="382" x2="254.7" y2="382" stroke="#707070" stroke-width="1.1"/>
<line x1="8.3" y1="384.3" x2="254.7" y2="384.3" stroke="#808080" stroke-width="1"/>
<line x1="8.3" y1="385.6" x2="254.7" y2="385.6" stroke="#dcdcdc" stroke-width="0.9"/>
<line x1="27" y1="437.6" x2="236" y2="437.6" stroke="#8a8a8a" stroke-width="1.3"/>
<line x1="9" y1="446.6" x2="254" y2="446.6" stroke="#9a9a9a" stroke-width="1.1"/>
<line x1="8.3" y1="447.8" x2="254.7" y2="447.8" stroke="#e0e0e0" stroke-width="0.8"/>
<line x1="8.3" y1="449.6" x2="254.7" y2="449.6" stroke="#3a3a3a" stroke-width="1.6"/>
<ellipse cx="72" cy="450.2" rx="1.6" ry="1.1" fill="#fff"/>
<ellipse cx="102" cy="450.2" rx="1.6" ry="1.1" fill="#fff"/>
<ellipse cx="130.5" cy="450.2" rx="1.6" ry="1.1" fill="#fff"/>
<ellipse cx="159" cy="450.2" rx="1.6" ry="1.1" fill="#fff"/>
<ellipse cx="188" cy="450.2" rx="1.6" ry="1.1" fill="#fff"/>
<line x1="8.3" y1="382" x2="8.3" y2="450" stroke="#333" stroke-width="1.2"/>
<line x1="254.7" y1="382" x2="254.7" y2="450" stroke="#3a3a3a" stroke-width="1.2"/>
<path d="M8.3 428.6 A12.5 12.5 0 0 1 27.5 437.6" fill="none" stroke="#8a8a8a" stroke-width="1.2"/>
<path d="M254.7 428.6 A12.5 12.5 0 0 0 235.5 437.6" fill="none" stroke="#8a8a8a" stroke-width="1.2"/>
<circle cx="16.8" cy="439.2" r="2.4" fill="#fff" stroke="#3a3a3a" stroke-width="1.6"/>
<circle cx="246" cy="439.2" r="2.4" fill="#fff" stroke="#3a3a3a" stroke-width="1.6"/>
<circle cx="164.9" cy="394.9" r="4.3" fill="#dedede" stroke="#4a4a4a" stroke-width="1.1"/>
<path d="M162.4 394.9 H167.4 M164.9 392.4 V397.4" stroke="#444" stroke-width="1.4"/>
<rect x="4.6" y="391.3" width="2.8" height="49" rx="0.5" fill="#f2f2f2" stroke="#666" stroke-width="0.8"/>
<rect x="255.5" y="391.3" width="2.5" height="49" rx="0.5" fill="#f2f2f2" stroke="#555" stroke-width="0.8"/>
<rect x="4.6" y="239" width="1.9" height="31" rx="0.5" fill="#f2f2f2" stroke="#666" stroke-width="0.7"/>
<rect x="256.3" y="239" width="1.9" height="31" rx="0.5" fill="#f2f2f2" stroke="#555" stroke-width="0.7"/>
<rect x="4.6" y="322.4" width="1.9" height="25.3" rx="0.5" fill="#f2f2f2" stroke="#666" stroke-width="0.7"/>
<rect x="255.9" y="339.2" width="2" height="25.8" rx="0.6" fill="#f2f2f2" stroke="#5a5a5a" stroke-width="0.8"/>
<line x1="6.2" y1="219" x2="6.2" y2="382" stroke="#5a5a5a" stroke-width="1.2"/>
<line x1="9.3" y1="248" x2="9.3" y2="382" stroke="#8a8a8a" stroke-width="1"/>
<line x1="253.7" y1="248" x2="253.7" y2="313" stroke="#8a8a8a" stroke-width="1"/>
<line x1="256.5" y1="219" x2="256.5" y2="313" stroke="#555" stroke-width="1.2"/>
<rect x="252.9" y="313" width="2.8" height="69" fill="#7a7a7a"/>
<rect x="7.2" y="220.2" width="2.4" height="13" fill="#fff" stroke="#333" stroke-width="0.8"/>
<rect x="7.2" y="233.2" width="2.4" height="15" fill="#9a9a9a"/>
<rect x="253.4" y="220.2" width="2.4" height="13" fill="#fff" stroke="#333" stroke-width="0.8"/>
<rect x="253.4" y="233.2" width="2.4" height="15" fill="#9a9a9a"/>
<line x1="6.2" y1="247.9" x2="23.5" y2="247.9" stroke="#777" stroke-width="1"/>
<line x1="67.5" y1="247.6" x2="256" y2="247.6" stroke="#808080" stroke-width="1.1"/>
<circle cx="16.6" cy="227.5" r="2.2" fill="#fff" stroke="#222" stroke-width="1.3"/>
<circle cx="246.3" cy="227.5" r="2.2" fill="#fff" stroke="#222" stroke-width="1.3"/>
<path d="M244 248.2 V276.1 A12.3 12.3 0 0 0 244 300.6 V313.1 H255.4" fill="none" stroke="#555" stroke-width="0.9"/>
<circle cx="246.3" cy="289" r="2.3" fill="#fff" stroke="#111" stroke-width="1.7"/>
<line x1="19.1" y1="248" x2="19.1" y2="276.5" stroke="#777" stroke-width="1"/>
<line x1="22" y1="248" x2="22" y2="276.5" stroke="#aaa" stroke-width="0.8"/>
<path d="M9.3 277.3 H123 V382 H9.3 Z" fill="#fff" stroke="#666" stroke-width="1"/>
<line x1="24" y1="278.4" x2="123" y2="278.4" stroke="#777" stroke-width="1.2"/>
<line x1="123" y1="277" x2="123" y2="382.5" stroke="#555" stroke-width="1.6"/>
<path d="M19 276.5 A12.5 12.5 0 1 1 19.6 301.2 V381" fill="none" stroke="#666" stroke-width="0.9"/>
<line x1="9.3" y1="381" x2="19.6" y2="381" stroke="#888" stroke-width="0.8"/>
<line x1="118.6" y1="286.4" x2="118.6" y2="378" stroke="#888" stroke-width="0.8"/>
<circle cx="16.8" cy="288.9" r="2.5" fill="#fff" stroke="#444" stroke-width="1.6"/>
<path d="M123.4 383.4 H134.5 L135.5 382.6 H244" fill="none" stroke="#777" stroke-width="0.9"/>
<circle cx="162.8" cy="329" r="19.3" fill="none" stroke="#222" stroke-width="1.1"/>
<circle cx="220.4" cy="329.1" r="19.5" fill="none" stroke="#222" stroke-width="1.1"/>
<path d="M128.2 289.3 A5.2 5.2 0 0 0 128.2 299.7 Z" fill="none" stroke="#444" stroke-width="0.9"/><path d="M143.2 289.3 A5.2 5.2 0 0 1 143.2 299.7 Z" fill="none" stroke="#333" stroke-width="0.9"/><line x1="124.7" y1="294.5" x2="128.2" y2="294.5" stroke="#666" stroke-width="0.7"/><rect x="128.2" y="267.8" width="15" height="34.4" rx="1.2" fill="none" stroke="#555" stroke-width="1"/><line x1="128.2" y1="288.3" x2="143.2" y2="288.3" stroke="#555" stroke-width="0.9"/><polygon points="135.7,269.6 142.11,273.3 142.11,280.7 135.7,284.4 129.29,280.7 129.29,273.3" fill="none" stroke="#2a2a2a" stroke-width="1"/><circle cx="135.7" cy="277" r="3.6" fill="none" stroke="#2a2a2a" stroke-width="1"/><circle cx="135.7" cy="294.5" r="4.3" fill="none" stroke="#222" stroke-width="1"/><path d="M133.7 285.4 L135.7 287.8 L137.7 285.4" fill="none" stroke="#666" stroke-width="0.7"/>
<path d="M93 347 A5.2 5.2 0 0 0 93 357.4 Z" fill="none" stroke="#444" stroke-width="0.9"/><path d="M108 347 A5.2 5.2 0 0 1 108 357.4 Z" fill="none" stroke="#333" stroke-width="0.9"/><line x1="89.5" y1="352.2" x2="93" y2="352.2" stroke="#666" stroke-width="0.7"/><rect x="93" y="325.5" width="15" height="34.4" rx="1.2" fill="none" stroke="#555" stroke-width="1"/><line x1="93" y1="346" x2="108" y2="346" stroke="#555" stroke-width="0.9"/><polygon points="100.5,327.3 106.91,331 106.91,338.4 100.5,342.1 94.09,338.4 94.09,331" fill="none" stroke="#2a2a2a" stroke-width="1"/><circle cx="100.5" cy="334.7" r="3.6" fill="none" stroke="#2a2a2a" stroke-width="1"/><circle cx="100.5" cy="352.2" r="4.3" fill="none" stroke="#222" stroke-width="1"/><path d="M98.5 343.1 L100.5 345.5 L102.5 343.1" fill="none" stroke="#666" stroke-width="0.7"/>
<circle cx="224.7" cy="260.1" r="11" fill="none" stroke="#2a2a2a" stroke-width="1.1"/><path d="M233.04 262.2 A8.6 8.6 0 1 1 233.04 258 L229.78 258 A5.5 5.5 0 1 0 229.78 262.2 Z" fill="#8c8c8c" stroke="#151515" stroke-width="1.1"/><circle cx="224.7" cy="260.1" r="3.3" fill="none" stroke="#333" stroke-width="1"/>
<rect x="164.6" y="248.2" width="13.8" height="1.6" fill="#333"/>
<rect x="166.4" y="249.6" width="10" height="6" fill="#fff" stroke="#555" stroke-width="0.8"/>
<rect x="168.6" y="250.8" width="2" height="3.6" fill="none" stroke="#666" stroke-width="0.6"/>
<rect x="172.2" y="250.8" width="2" height="3.6" fill="none" stroke="#666" stroke-width="0.6"/>
<rect x="182.2" y="248" width="18.1" height="5.6" rx="1" fill="none" stroke="#777" stroke-width="0.8"/>
<line x1="124" y1="219.5" x2="124" y2="247.5" stroke="#b0b0b0" stroke-width="0.8"/>
<path d="M23.5 278.6 V225.2 Q23.5 222.2 26.5 222.2 H64.7 Q67.7 222.2 67.7 225.2 V278.6 Z" fill="#fff" stroke="#333" stroke-width="1.1"/><rect x="25.2" y="223.4" width="40.8" height="2.6" fill="#333"/><rect x="25" y="224" width="2" height="50.5" fill="#3a3a3a"/><rect x="64.3" y="224" width="2.2" height="50.5" fill="#2e2e2e"/><rect x="25.8" y="224" width="1.6" height="1.6" fill="#eee"/><rect x="63.8" y="224" width="1.6" height="1.6" fill="#eee"/><rect x="44.2" y="226" width="2.2" height="49.5" rx="1" fill="#777" stroke="#333" stroke-width="0.8"/><rect x="44.7" y="258.8" width="1.2" height="2.2" fill="#ddd"/><rect x="31.6" y="226.3" width="7.5" height="2.4" fill="#fff" stroke="#666" stroke-width="0.6"/><rect x="31.6" y="240.9" width="7.5" height="2.4" fill="#fff" stroke="#666" stroke-width="0.6"/><rect x="29.6" y="228.3" width="11.5" height="12.7" rx="0.8" fill="#fff" stroke="#444" stroke-width="0.9"/><circle cx="35.4" cy="234.6" r="4.4" fill="#d0d0d0" stroke="#333" stroke-width="0.9"/><path d="M32.1 233 L37 237.9 M33.8 231.3 L38.7 236.2" stroke="#333" stroke-width="0.9"/><rect x="52" y="226.3" width="7.5" height="2.4" fill="#fff" stroke="#666" stroke-width="0.6"/><rect x="52" y="240.9" width="7.5" height="2.4" fill="#fff" stroke="#666" stroke-width="0.6"/><rect x="50" y="228.3" width="11.5" height="12.7" rx="0.8" fill="#fff" stroke="#444" stroke-width="0.9"/><circle cx="55.8" cy="234.6" r="4.4" fill="#d0d0d0" stroke="#333" stroke-width="0.9"/><path d="M52.5 233 L57.4 237.9 M54.2 231.3 L59.1 236.2" stroke="#333" stroke-width="0.9"/><rect x="30.4" y="253" width="9" height="2.6" rx="0.6" fill="#bdbdbd" stroke="#4a4a4a" stroke-width="0.8"/><path d="M55.3 249.6 H57.7 V253 H61.1 V255.4 H57.7 V258.8 H55.3 V255.4 H51.9 V253 H55.3 Z" fill="#c4c4c4" stroke="#4a4a4a" stroke-width="0.8"/><path d="M23.5 273.6 H27 L28.5 276 V278.6 H23.5 Z" fill="#888" stroke="#333" stroke-width="0.7"/><path d="M67.7 273.6 H64.2 L62.7 276 V278.6 H67.7 Z" fill="#888" stroke="#333" stroke-width="0.7"/>
<rect x="86.1" y="235.1" width="12.5" height="10.2" rx="1.2" fill="#a8a8a8" stroke="#666" stroke-width="0.8"/><rect x="86.9" y="235.9" width="10.9" height="2" fill="#cfcfcf"/><rect x="86.8" y="238" width="11.1" height="5.6" fill="#1c1c1c"/><circle cx="89.4" cy="240.6" r="1.6" fill="#8a8a8a"/><circle cx="95.3" cy="240.6" r="1.6" fill="#8a8a8a"/><path d="M91.35 243.5 L92.35 240.9 L93.35 243.5 Z" fill="#aaa"/><rect x="130.2" y="235.3" width="12.4" height="10.2" rx="1.2" fill="#a8a8a8" stroke="#666" stroke-width="0.8"/><rect x="131" y="236.1" width="10.8" height="2" fill="#cfcfcf"/><rect x="130.9" y="238.2" width="11" height="5.6" fill="#1c1c1c"/><circle cx="133.5" cy="240.8" r="1.6" fill="#8a8a8a"/><circle cx="139.3" cy="240.8" r="1.6" fill="#8a8a8a"/><path d="M135.4 243.7 L136.4 241.1 L137.4 243.7 Z" fill="#aaa"/><rect x="107.7" y="230.2" width="14.2" height="15" rx="1.2" fill="#fff" stroke="#777" stroke-width="0.9"/><rect x="110.2" y="233.8" width="8.7" height="7.8" fill="#c4c4c4" stroke="#222" stroke-width="1.3"/><rect x="112.7" y="236" width="3.7" height="3.4" fill="#eee" stroke="#222" stroke-width="1"/><circle cx="107.5" cy="234.9" r="1" fill="#111"/><circle cx="107.5" cy="240.7" r="1" fill="#111"/><circle cx="122.1" cy="234.9" r="1" fill="#111"/><circle cx="122.1" cy="240.7" r="1" fill="#111"/><rect x="124.3" y="230.8" width="1" height="3" fill="#666"/><rect x="105.2" y="221.5" width="1.3" height="1.2" fill="#555"/><rect x="105.2" y="223.6" width="1.3" height="1.2" fill="#555"/><rect x="121" y="220.3" width="1.2" height="1" fill="#666"/><path d="M133.5 229.5 l1 -0.6 l1.2 0.8" stroke="#444" stroke-width="0.8" fill="none"/><rect x="141.3" y="229.6" width="1.1" height="1" fill="#555"/><circle cx="152.5" cy="228.4" r="3.3" fill="none" stroke="#111" stroke-width="1.3"/><circle cx="152.5" cy="235.3" r="3.3" fill="none" stroke="#111" stroke-width="1.3"/><circle cx="152.5" cy="242.1" r="3.3" fill="none" stroke="#111" stroke-width="1.3"/><rect x="156.5" y="230" width="1.5" height="11" fill="#fff" stroke="#777" stroke-width="0.5"/><rect x="160.4" y="225.5" width="8.7" height="2.8" fill="#c8c8c8" stroke="#555" stroke-width="0.7"/><rect x="160.4" y="240.9" width="8.7" height="2.8" fill="#c8c8c8" stroke="#555" stroke-width="0.7"/><rect x="158" y="228.1" width="13.6" height="12.9" rx="0.8" fill="#e8e8e8" stroke="#555" stroke-width="0.9"/><circle cx="164.8" cy="234.3" r="4.3" fill="#d4d4d4" stroke="#222" stroke-width="1"/><path d="M161.6 232.8 L166.3 237.5 M163.3 231.1 L168 235.8" stroke="#222" stroke-width="0.9"/><rect x="185.4" y="226.1" width="17.2" height="17.5" rx="1" fill="#bdbdbd" stroke="#333" stroke-width="1"/><rect x="187.1" y="228.6" width="13.8" height="12" fill="#eee" stroke="#333" stroke-width="0.9"/><circle cx="194" cy="234.2" r="4.5" fill="#d4d4d4" stroke="#222" stroke-width="1"/><path d="M190.7 232.6 L195.6 237.5 M192.4 230.9 L197.3 235.8" stroke="#222" stroke-width="0.9"/><circle cx="162.6" cy="221.7" r="0.75" fill="#333"/><circle cx="165.6" cy="221.7" r="0.75" fill="#333"/><circle cx="168.1" cy="221.7" r="0.75" fill="#333"/><circle cx="171.1" cy="223.4" r="0.85" fill="#222"/><circle cx="188.6" cy="223" r="0.85" fill="#222"/><circle cx="191.8" cy="222" r="0.75" fill="#333"/><circle cx="195.2" cy="222" r="0.75" fill="#333"/><circle cx="198.6" cy="222" r="0.75" fill="#333"/><rect x="213.6" y="233" width="25.1" height="12.4" rx="0.8" fill="#fff" stroke="#333" stroke-width="0.9"/><rect x="214" y="233.4" width="2.4" height="2.2" fill="#222"/><rect x="235.9" y="233.4" width="2.4" height="2.2" fill="#222"/><rect x="214.6" y="236.6" width="23.2" height="7.5" fill="#858585"/><rect x="215.2" y="237.4" width="1.6" height="2.4" fill="#bbb"/><rect x="215.2" y="240.6" width="1.6" height="3" fill="#f4f4f4"/><rect x="218.05" y="237.4" width="1.6" height="2.4" fill="#bbb"/><rect x="218.05" y="240.6" width="1.6" height="3" fill="#f4f4f4"/><rect x="220.9" y="237.4" width="1.6" height="2.4" fill="#bbb"/><rect x="220.9" y="240.6" width="1.6" height="3" fill="#f4f4f4"/><rect x="223.75" y="237.4" width="1.6" height="2.4" fill="#bbb"/><rect x="223.75" y="240.6" width="1.6" height="3" fill="#f4f4f4"/><rect x="226.6" y="237.4" width="1.6" height="2.4" fill="#bbb"/><rect x="226.6" y="240.6" width="1.6" height="3" fill="#f4f4f4"/><rect x="229.45" y="237.4" width="1.6" height="2.4" fill="#bbb"/><rect x="229.45" y="240.6" width="1.6" height="3" fill="#f4f4f4"/><rect x="232.3" y="237.4" width="1.6" height="2.4" fill="#bbb"/><rect x="232.3" y="240.6" width="1.6" height="3" fill="#f4f4f4"/><rect x="235.15" y="237.4" width="1.6" height="2.4" fill="#bbb"/><rect x="235.15" y="240.6" width="1.6" height="3" fill="#f4f4f4"/><rect x="225.5" y="221.7" width="8.5" height="9" fill="#fff" stroke="#444" stroke-width="0.8"/><path d="M220.5 226 h3 M221 229 h3 M235 223 h2 M235 228 h2 M228 219.6 h3" stroke="#555" stroke-width="0.9"/><rect x="218" y="231" width="3" height="1.8" fill="#555"/></g>
<path d="M61.88 505.28 A47.2 47.2 0 0 1 66.9 411.1 L66.9 418.7 A39.6 39.6 0 0 0 62.6 497.72 Z" fill="#000"/><path d="M60 390 Q74.6 403.4 90.8 415.2 Q74.6 427.8 60 439.9 Q63.2 430.5 65.8 419.5 L67 411 Q62.6 401 60 390 Z" fill="#000"/>
<path d="M502.88 503.28 A47.2 47.2 0 0 1 507.9 409.1 L507.9 416.7 A39.6 39.6 0 0 0 503.6 495.72 Z" fill="#000"/><path d="M501 388 Q515.6 401.4 531.8 413.2 Q515.6 425.8 501 437.9 Q504.2 428.5 506.8 417.5 L508 409 Q503.6 399 501 388 Z" fill="#000"/>
</svg>
<div class="t" style="left:70.3px;top:472.2px;letter-spacing:0.05px">A high voltage connection</div>
<div class="t" style="left:70.5px;top:496.7px;letter-spacing:-0.19px">area under a divider</div>
<div class="t" style="left:519.5px;top:476.2px;letter-spacing:0.0px">A low voltage connection</div>
<div class="t" style="left:519.6px;top:500.5px;letter-spacing:-0.18px">area on the board.</div>
</body></html>
